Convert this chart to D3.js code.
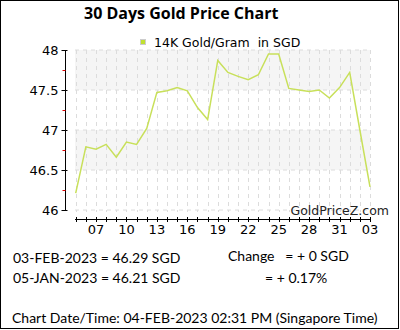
<!DOCTYPE html>
<html><head><meta charset="utf-8">
<script src="https://cdn.jsdelivr.net/npm/d3@7"></script>
<style>html,body{margin:0;padding:0;background:#fff}svg{display:block}text{white-space:pre}</style>
</head><body>
<svg id="c" width="400" height="330"></svg>
<script>
const days = ["05","06","07","08","09","10","11","12","13","14","15","16","17","18","19","20","21","22","23","24","25","26","27","28","29","30","31","01","02","03"];
const prices = [46.21,46.79,46.76,46.82,46.66,46.85,46.82,47.02,47.47,47.49,47.53,47.49,47.28,47.13,47.87,47.72,47.67,47.63,47.69,47.95,47.95,47.52,47.50,47.48,47.50,47.40,47.53,47.72,47.00,46.29];
const labelDays = ["07","10","13","16","19","22","25","28","31","03"];
const yTicks = [46,46.5,47,47.5,48];
const yMinor = [46.25,46.75,47.25,47.75];
const bands = [[47.5,48],[46.5,47]];
const title = "30 Days Gold Price Chart";
const legendText = "14K Gold/Gram  in SGD";
const infoLines = [
  {t:"03-FEB-2023 = 46.29 SGD", x:13, y:263},
  {t:"05-JAN-2023 = 46.21 SGD", x:13, y:283},
  {t:"Change   = + 0 SGD", x:228, y:261},
  {t:"= + 0.17%", x:265, y:283},
  {t:"Chart Date/Time: 04-FEB-2023 02:31 PM (Singapore Time)", x:12, y:323}
];

const svg = d3.select("#c");
const x = d3.scalePoint().domain(d3.range(days.length)).range([75.7,370]);
const y = d3.scaleLinear().domain([46,48]).range([210,50]);
const x0 = 75, x1 = 370;

svg.append("rect").attr("x",0.5).attr("y",0.5).attr("width",398).attr("height",328)
  .attr("fill","#fff").attr("stroke","#000").attr("stroke-width",1);

// bands
svg.selectAll(".band").data(bands).enter().append("rect")
  .attr("x",x0).attr("width",x1-x0)
  .attr("y",d=>y(d[1])).attr("height",d=>y(d[0])-y(d[1]))
  .attr("fill","#f5f5f5");

// grid
svg.selectAll(".hg").data(yTicks).enter().append("line")
  .attr("x1",x0).attr("x2",x1).attr("y1",d=>y(d)).attr("y2",d=>y(d))
  .attr("stroke","#dcdcdc").attr("stroke-dasharray","4,4");
svg.selectAll(".vg").data(d3.range(days.length)).enter().append("line")
  .attr("x1",d=>Math.round(x(d))+0.5).attr("x2",d=>Math.round(x(d))+0.5)
  .attr("y1",50).attr("y2",212)
  .attr("stroke","#dcdcdc").attr("stroke-dasharray","4,4");

// y axis
const yAxis = svg.append("g").attr("transform","translate(65.5,0)")
  .call(d3.axisLeft(y).tickValues(yTicks).tickSize(4).tickPadding(3).tickFormat(d3.format("")));
yAxis.select(".domain").attr("d","M0,"+y(48)+"V"+y(46)).attr("stroke","#000");
yAxis.selectAll(".tick line").attr("x2",-4).attr("x1",2);
yAxis.selectAll("text").attr("font-family","DejaVu Sans").attr("font-size",13).attr("fill","#000");
svg.selectAll(".minor").data(yMinor).enter().append("line")
  .attr("x1",62.5).attr("x2",65.5).attr("y1",d=>Math.round(y(d))+0.5).attr("y2",d=>Math.round(y(d))+0.5)
  .attr("stroke","#e00000");

// x axis
const xa = svg.append("g").attr("transform","translate(0,219.5)");
xa.append("line").attr("x1",x0).attr("x2",x1+1).attr("stroke","#000");
xa.selectAll(".xt").data(d3.range(days.length)).enter().append("line")
  .attr("x1",d=>Math.round(x(d))+0.5).attr("x2",d=>Math.round(x(d))+0.5)
  .attr("y1",-2.5).attr("y2",2.5).attr("stroke","#000");
xa.selectAll(".xl").data(d3.range(days.length).filter(i=>labelDays.includes(days[i]) && i>=2 && (i-2)%3===0))
  .enter().append("text")
  .attr("x",d=>x(d)).attr("y",14).attr("text-anchor","middle")
  .attr("font-family","DejaVu Sans").attr("font-size",13).text(d=>days[d]);

// line
svg.append("path").datum(prices)
  .attr("d",d3.line().x((d,i)=>x(i)).y(d=>y(d)))
  .attr("fill","none").attr("stroke","#c8e05a").attr("stroke-width",1.5);

// watermark
svg.append("text").attr("x",389).attr("y",215).attr("text-anchor","end")
  .attr("font-family","DejaVu Sans").attr("font-size",12.5).attr("fill","#222").text("GoldPriceZ.com");

// title
svg.append("text").attr("x",84).attr("y",19).attr("font-family","Open Sans").attr("font-weight","bold")
  .attr("font-size",16).text(title);

// legend
svg.append("rect").attr("x",140.5).attr("y",39.5).attr("width",5).attr("height",5)
  .attr("fill","#c0e030").attr("stroke","#ccc").attr("stroke-width",1);
svg.append("text").attr("x",154).attr("y",47).attr("font-family","DejaVu Sans")
  .attr("font-size",12.5).text(legendText);

// info
svg.selectAll(".info").data(infoLines).enter().append("text")
  .attr("x",d=>d.x).attr("y",d=>d.y).attr("font-family","Lato").attr("font-size",14)
  .text(d=>d.t);
</script>
</body></html>
